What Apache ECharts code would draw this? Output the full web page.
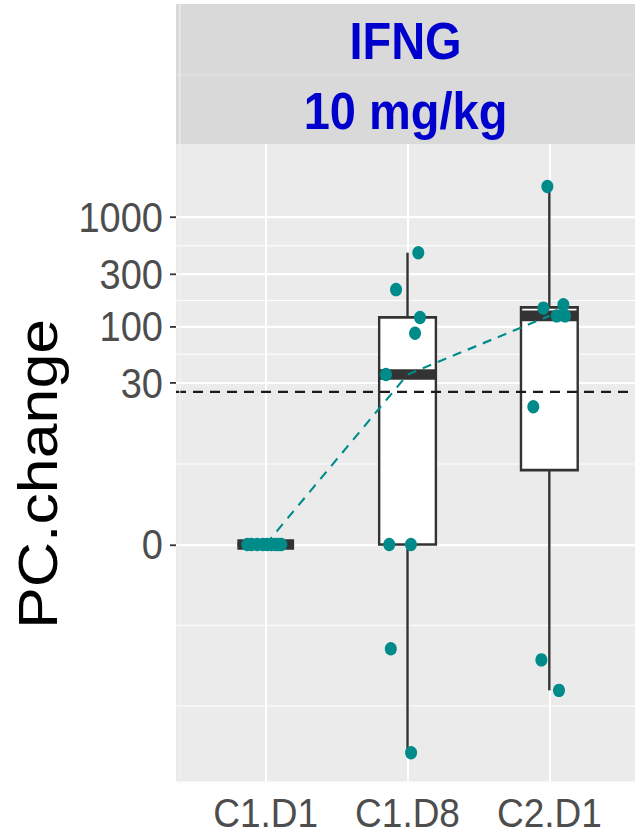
<!DOCTYPE html>
<html>
<head>
<meta charset="utf-8">
<script src="https://cdn.jsdelivr.net/npm/echarts@6/dist/echarts.min.js"></script>
<style>
  html, body { margin: 0; padding: 0; background: #ffffff; overflow: hidden; }
  #wrap { width: 644px; height: 833px; overflow: hidden; }
  #chart { width: 644px; height: 744px; transform: scaleY(1.119624); transform-origin: 0 0; }
</style>
</head>
<body>
<div id="wrap"><div id="chart"></div></div>
<script>
// ---------------- data ----------------
const categories = ['C1.D1', 'C1.D8', 'C2.D1'];
const valuesC1D1 = [0, 0, 0, 0, 0, 0, 0, 0, 0];
const valuesC1D8 = [470, 216, 120, 86, 36, 0, 0, -8.9, -80.6];
const valuesC2D1 = [1900, 157, 146, 124, 124, 18.2, -11.3, -21.6];
// horizontal jitter of each point, in category units
const jitterC1D1 = [-0.13, -0.10, -0.06, -0.02, 0.01, 0.04, 0.07, 0.09, 0.11];
const jitterC1D8 = [0.076, -0.081, 0.088, 0.053, -0.152, -0.129, 0.024, -0.118, 0.025];
const jitterC2D1 = [-0.014, 0.099, -0.042, 0.052, 0.111, -0.113, -0.056, 0.068];
const yTickValues = [0, 30, 100, 300, 1000];
const yTickLabels = ['0', '30', '100', '300', '1000'];
const thresholdValue = 25;
const stripLine1 = 'IFNG';
const stripLine2 = '10 mg/kg';
const yTitle = 'PC.change';

// ---------------- helpers ----------------
const LN10 = Math.log(10);
const T = v => Math.asinh(v / 2) / LN10;   // pseudo-log (sigma 1, base 10)
function quantile(sorted, p) {
  const h = (sorted.length - 1) * p;
  const lo = Math.floor(h), hi = Math.ceil(h);
  return sorted[lo] + (h - lo) * (sorted[hi] - sorted[lo]);
}
function boxStats(vals) {
  const s = vals.map(T).sort((a, b) => a - b);
  const q1 = quantile(s, 0.25), med = quantile(s, 0.5), q3 = quantile(s, 0.75);
  const iqr = q3 - q1;
  const lowW = Math.min(...s.filter(v => v >= q1 - 1.5 * iqr));
  const highW = Math.max(...s.filter(v => v <= q3 + 1.5 * iqr));
  return [lowW, q1, med, q3, highW];
}

const groups = [valuesC1D1, valuesC1D8, valuesC2D1];
const jitters = [jitterC1D1, jitterC1D8, jitterC2D1];
const boxData = groups.map((g, i) => [i + 1].concat(boxStats(g)));
const medianData = boxData.map(b => [b[0], b[3]]);
const pointData = [];
groups.forEach((g, i) => g.forEach((v, j) => pointData.push([i + 1 + jitters[i][j], T(v)])));

// gridlines (ggplot-style major + minor in transformed space)
const majorT = yTickValues.map(T);
const bd = majorT[1] - majorT[0];
const ext = [majorT[0] - bd].concat(majorT, [majorT[majorT.length - 1] + bd]);
const minorT = [];
for (let i = 0; i < ext.length - 1; i++) { minorT.push(ext[i], (ext[i] + ext[i + 1]) / 2); }
minorT.push(ext[ext.length - 1]);

const Y_MIN = -2.170, Y_MAX = 3.6676;
const X_MIN = 0.3674, X_MAX = 3.604;
const inY = v => v >= Y_MIN && v <= Y_MAX;

const TEAL = '#008B8B';
const FONT = 'Liberation Sans';
const BOX_W = 0.4;
const MED_T = 9.5;
const DARK = '#333333';
const STROKE = 2.4;

const gridLines = []
  .concat(minorT.filter(inY).map(v => ({ yAxis: v, lineStyle: { color: '#ffffff', width: 0.9, type: 'solid' } })))
  .concat(majorT.filter(inY).map(v => ({ yAxis: v, lineStyle: { color: '#ffffff', width: 1.8, type: 'solid' } })))
  .concat([1, 2, 3].map(v => ({ xAxis: v, lineStyle: { color: '#ffffff', width: 2, type: 'solid' } })));

const chart = echarts.init(document.getElementById('chart'), null, { renderer: 'svg' });
chart.setOption({
  animation: false,
  backgroundColor: '#ffffff',
  grid: { left: 176, right: 9, top: 128.6, bottom: 42.9, show: true, backgroundColor: '#EBEBEB', borderWidth: 0 },
  xAxis: {
    type: 'value', min: X_MIN, max: X_MAX,
    axisLine: { show: false },
    splitLine: { show: false },
    axisTick: { show: true, customValues: [1, 2, 3], length: 5, lineStyle: { color: DARK, width: 1.6 } },
    axisLabel: {
      customValues: [1, 2, 3], margin: 9,
      formatter: v => categories[Math.round(v) - 1],
      color: '#4D4D4D', fontSize: 37, fontFamily: FONT
    }
  },
  yAxis: {
    type: 'value', min: Y_MIN, max: Y_MAX,
    name: yTitle, nameLocation: 'middle', nameGap: 110,
    nameTextStyle: { fontSize: 56, color: '#000000', fontFamily: FONT, padding: [0, 20, 0, 0] },
    axisLine: { show: false },
    splitLine: { show: false },
    axisTick: { show: true, customValues: majorT, length: 6, lineStyle: { color: DARK, width: 1.6 } },
    axisLabel: {
      customValues: majorT, margin: 13,
      formatter: v => {
        let best = 0;
        majorT.forEach((t, i) => { if (Math.abs(t - v) < Math.abs(majorT[best] - v)) best = i; });
        return yTickLabels[best];
      },
      color: '#4D4D4D', fontSize: 38, fontFamily: FONT
    }
  },
  graphic: [
    { type: 'rect', left: 176, top: 3.6, shape: { width: 459, height: 125 }, style: { fill: '#D9D9D9' }, silent: true },
    { type: 'rect', left: 176, top: 66.6, shape: { width: 459, height: 0.9 }, style: { fill: '#E3E3E3' }, silent: true },
    { type: 'rect', left: 179.3, top: 3.6, shape: { width: 1, height: 697.5 }, style: { fill: '#F3F3F3' }, silent: true, z: 100 },
    { type: 'text', x: 405.5, y: 37, style: { text: stripLine1, fill: '#0000CD', font: 'bold 47px "Liberation Sans"', textAlign: 'center', textVerticalAlign: 'middle' }, silent: true },
    { type: 'text', x: 405.5, y: 99, style: { text: stripLine2, fill: '#0000CD', font: 'bold 47px "Liberation Sans"', textAlign: 'center', textVerticalAlign: 'middle' }, silent: true }
  ],
  series: [
    {
      type: 'scatter', z: 1, data: [], silent: true,
      markLine: { z: 1, silent: true, symbol: ['none', 'none'], label: { show: false }, animation: false, data: gridLines }
    },
    {
      type: 'custom', z: 2, silent: true,
      encode: { x: 0, y: [1, 2, 3, 4, 5] },
      data: boxData,
      renderItem: (params, api) => {
        const x = api.value(0);
        const lo = api.coord([x, api.value(1)]);
        const q1 = api.coord([x, api.value(2)]);
        const md = api.coord([x, api.value(3)]);
        const q3 = api.coord([x, api.value(4)]);
        const hi = api.coord([x, api.value(5)]);
        const w = api.size([BOX_W, 0])[0];
        const cx = md[0];
        const left = cx - w / 2;
        const ls = { stroke: DARK, lineWidth: STROKE };
        return {
          type: 'group',
          children: [
            { type: 'line', shape: { x1: cx, y1: hi[1], x2: cx, y2: q3[1] }, style: ls },
            { type: 'line', shape: { x1: cx, y1: q1[1], x2: cx, y2: lo[1] }, style: ls },
            { type: 'rect', shape: { x: left, y: q3[1], width: w, height: q1[1] - q3[1] }, style: { fill: '#ffffff', stroke: DARK, lineWidth: STROKE } },
            { type: 'rect', shape: { x: left, y: md[1] - MED_T / 2, width: w, height: MED_T }, style: { fill: DARK } }
          ]
        };
      }
    },
    {
      type: 'scatter', z: 3, data: [], silent: true,
      markLine: {
        z: 3, silent: true, symbol: ['none', 'none'], label: { show: false }, animation: false,
        data: [{ yAxis: T(thresholdValue), lineStyle: { color: '#1a1a1a', width: 2, type: [10, 7] } }]
      }
    },
    {
      type: 'line', z: 4, silent: true, data: medianData, showSymbol: false, symbol: 'none',
      lineStyle: { color: TEAL, width: 2, type: [9, 7] }
    },
    {
      type: 'scatter', z: 5, silent: true, data: pointData, symbolSize: 12,
      itemStyle: { color: TEAL, opacity: 1 }
    }
  ]
});
</script>
</body>
</html>
